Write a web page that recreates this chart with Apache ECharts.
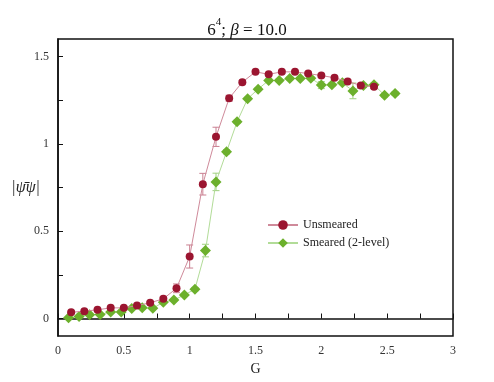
<!DOCTYPE html>
<html>
<head>
<meta charset="utf-8">
<script src="https://cdn.jsdelivr.net/npm/echarts@6/dist/echarts.min.js"></script>
<style>
  html, body { margin: 0; padding: 0; background: #fff; }
  #main { width: 494px; height: 382px; }
</style>
</head>
<body>
<div id="main"></div>
<script>
// unsmeared: G = 0.1 .. 2.4
var unsmearedG = [0.1, 0.2, 0.3, 0.4, 0.5, 0.6, 0.7, 0.8, 0.9, 1.0, 1.1, 1.2,
    1.3, 1.4, 1.5, 1.6, 1.7, 1.8, 1.9, 2.0, 2.1, 2.2, 2.3, 2.4];
var unsmearedVal = [0.036, 0.042, 0.05, 0.061, 0.061, 0.074, 0.09, 0.113, 0.173, 0.355, 0.769, 1.04,
    1.261, 1.353, 1.412, 1.398, 1.412, 1.412, 1.402, 1.391, 1.378, 1.357, 1.334, 1.326];
var unsmearedErr = [0.005, 0.005, 0.005, 0.006, 0.006, 0.006, 0.008, 0.01, 0.025, 0.066, 0.062, 0.055,
    0.017, 0.01, 0.008, 0.008, 0.008, 0.008, 0.008, 0.008, 0.01, 0.01, 0.012, 0.01];

// smeared (2-level): G = 0.08 .. 2.56
var smearedG = [0.08, 0.16, 0.24, 0.32, 0.40, 0.48, 0.56, 0.64, 0.72, 0.80, 0.88, 0.96, 1.04, 1.12, 1.20, 1.28,
    1.36, 1.44, 1.52, 1.60, 1.68, 1.76, 1.84, 1.92, 2.00, 2.08, 2.16, 2.24, 2.32, 2.40, 2.48, 2.56];
var smearedVal = [0.004, 0.011, 0.021, 0.023, 0.038, 0.038, 0.057, 0.061, 0.059, 0.093, 0.106, 0.135, 0.168, 0.389, 0.782, 0.954,
    1.126, 1.258, 1.313, 1.363, 1.363, 1.374, 1.374, 1.376, 1.336, 1.338, 1.349, 1.303, 1.334, 1.338, 1.278, 1.288];
var smearedErr = [0.004, 0.004, 0.004, 0.004, 0.005, 0.005, 0.005, 0.005, 0.005, 0.006, 0.006, 0.008, 0.01, 0.036, 0.05, 0.012,
    0.01, 0.008, 0.008, 0.008, 0.008, 0.008, 0.008, 0.008, 0.02, 0.01, 0.01, 0.045, 0.01, 0.01, 0.01, 0.01];

var xTicks = [0, 0.25, 0.5, 0.75, 1, 1.25, 1.5, 1.75, 2, 2.25, 2.5, 2.75, 3];
var xLabels = [0, 0.5, 1, 1.5, 2, 2.5, 3];
var yTicks = [0, 0.25, 0.5, 0.75, 1, 1.25, 1.5];
var yLabels = [0, 0.5, 1, 1.5];

var serif = '"Liberation Serif", "DejaVu Serif", serif';

function pairs(xs, ys) {
    return xs.map(function (x, i) { return [x, ys[i]]; });
}
function errData(xs, ys, es) {
    return xs.map(function (x, i) { return [x, ys[i] - es[i], ys[i] + es[i]]; });
}
function errorBars(color) {
    return function (params, api) {
        var lo = api.coord([api.value(0), api.value(1)]);
        var hi = api.coord([api.value(0), api.value(2)]);
        var w = 3.5;
        var st = { stroke: color, lineWidth: 1 };
        return {
            type: 'group',
            children: [
                { type: 'line', shape: { x1: lo[0], y1: lo[1], x2: hi[0], y2: hi[1] }, style: st },
                { type: 'line', shape: { x1: lo[0] - w, y1: lo[1], x2: lo[0] + w, y2: lo[1] }, style: st },
                { type: 'line', shape: { x1: hi[0] - w, y1: hi[1], x2: hi[0] + w, y2: hi[1] }, style: st }
            ]
        };
    };
}

var chart = echarts.init(document.getElementById('main'));
chart.setOption({
    animation: false,
    backgroundColor: '#fff',
    title: {
        text: '{a|6}{s|4}{a|; }{i|β}{a| = 10.0}',
        left: 'center',
        top: 12,
        textStyle: {
            fontWeight: 'normal',
            rich: {
                a: { fontFamily: serif, fontSize: 17, fontWeight: 'normal', color: '#111', lineHeight: 22, verticalAlign: 'bottom' },
                s: { fontFamily: serif, fontSize: 11, fontWeight: 'normal', color: '#111', lineHeight: 16, verticalAlign: 'top' },
                i: { fontFamily: serif, fontSize: 17, fontWeight: 'normal', fontStyle: 'italic', color: '#111', lineHeight: 22, verticalAlign: 'bottom' }
            }
        }
    },
    legend: {
        left: 262,
        top: 214,
        orient: 'vertical',
        itemWidth: 30,
        itemHeight: 12,
        itemGap: 6,
        data: ['Unsmeared', 'Smeared (2-level)'],
        textStyle: { fontFamily: serif, fontSize: 12, color: '#222' }
    },
    grid: {
        left: 58, right: 41, top: 39, bottom: 46,
        outerBoundsMode: 'none',
        show: true, borderColor: '#111', borderWidth: 1.5, backgroundColor: 'transparent'
    },
    xAxis: {
        type: 'value',
        min: 0, max: 3,
        name: 'G',
        nameLocation: 'middle',
        nameGap: 23,
        nameTextStyle: { fontFamily: serif, fontSize: 14, color: '#222' },
        axisLine: { show: true, lineStyle: { color: '#111', width: 1.5 } },
        axisTick: { show: true, inside: true, length: 5, customValues: xTicks, lineStyle: { color: '#111' } },
        axisLabel: { customValues: xLabels, margin: 9, fontFamily: serif, fontSize: 12, color: '#333' },
        splitLine: { show: false }
    },
    yAxis: {
        type: 'value',
        min: -0.1, max: 1.6,
        name: '|ψ̄ψ|',
        nameLocation: 'middle',
        nameRotate: 0,
        nameGap: 18,
        nameMoveOverlap: false,
        nameTextStyle: { fontFamily: serif, fontSize: 16, fontStyle: 'italic', color: '#222' },
        axisLine: { show: true, lineStyle: { color: '#111', width: 1.5 } },
        axisTick: { show: true, inside: true, length: 5, customValues: yTicks, lineStyle: { color: '#111' } },
        axisLabel: { customValues: yLabels, margin: 9, fontFamily: serif, fontSize: 12, color: '#333' },
        splitLine: { show: false }
    },
    series: [
        {
            type: 'custom',
            renderItem: errorBars('#c97f90'),
            data: errData(unsmearedG, unsmearedVal, unsmearedErr),
            encode: { x: 0, y: [1, 2] },
            z: 1, silent: true
        },
        {
            type: 'custom',
            renderItem: errorBars('#9fd07f'),
            data: errData(smearedG, smearedVal, smearedErr),
            encode: { x: 0, y: [1, 2] },
            z: 1, silent: true
        },
        {
            name: 'Unsmeared',
            type: 'line',
            data: pairs(unsmearedG, unsmearedVal),
            symbol: 'circle',
            symbolSize: 8,
            lineStyle: { color: '#cf8a9a', width: 1 },
            itemStyle: { color: '#9b1530' },
            z: 3
        },
        {
            name: 'Smeared (2-level)',
            type: 'line',
            data: pairs(smearedG, smearedVal),
            symbol: 'diamond',
            symbolSize: 11,
            lineStyle: { color: '#b2dc98', width: 1 },
            itemStyle: { color: '#6cb02c' },
            z: 2
        }
    ]
});
</script>
</body>
</html>
